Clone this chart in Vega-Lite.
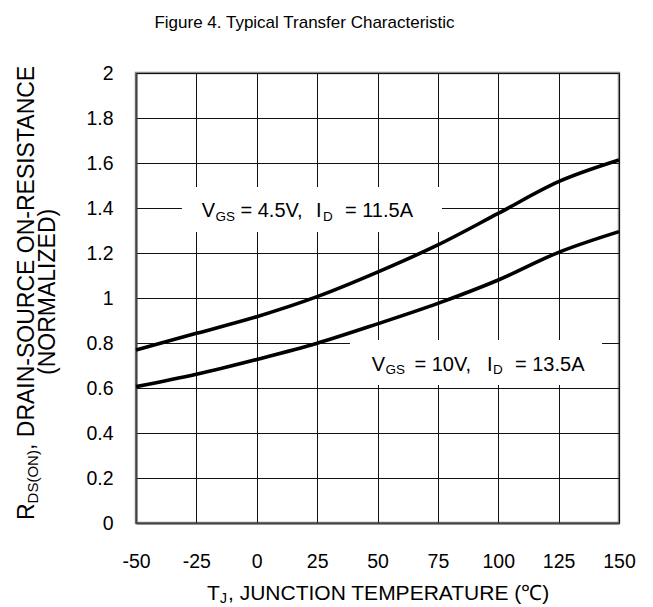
{
  "$schema": "https://vega.github.io/schema/vega-lite/v6.json",
  "width": 483,
  "height": 450,
  "autosize": {"type": "none"},
  "padding": {"left": 136, "top": 73, "right": 34, "bottom": 84},
  "background": "white",
  "title": {
    "text": "Figure 4. Typical Transfer Characteristic",
    "font": "Liberation Sans",
    "fontSize": 17,
    "fontWeight": "normal",
    "color": "black",
    "anchor": "middle",
    "frame": "group",
    "baseline": "alphabetic",
    "offset": 18,
    "dx": -73
  },
  "datasets": {
    "curves": [
      {"series": "VGS = 4.5V", "t": -50, "r": 0.769},
      {"series": "VGS = 4.5V", "t": -25, "r": 0.843},
      {"series": "VGS = 4.5V", "t": 0, "r": 0.917},
      {"series": "VGS = 4.5V", "t": 25, "r": 1.006},
      {"series": "VGS = 4.5V", "t": 50, "r": 1.115},
      {"series": "VGS = 4.5V", "t": 75, "r": 1.236},
      {"series": "VGS = 4.5V", "t": 100, "r": 1.376},
      {"series": "VGS = 4.5V", "t": 125, "r": 1.517},
      {"series": "VGS = 4.5V", "t": 150, "r": 1.613},
      {"series": "VGS = 10V", "t": -50, "r": 0.606},
      {"series": "VGS = 10V", "t": -25, "r": 0.661},
      {"series": "VGS = 10V", "t": 0, "r": 0.727},
      {"series": "VGS = 10V", "t": 25, "r": 0.799},
      {"series": "VGS = 10V", "t": 50, "r": 0.885},
      {"series": "VGS = 10V", "t": 75, "r": 0.976},
      {"series": "VGS = 10V", "t": 100, "r": 1.08},
      {"series": "VGS = 10V", "t": 125, "r": 1.203},
      {"series": "VGS = 10V", "t": 150, "r": 1.295}
    ],
    "boxes": [
      {"t1": -31, "t2": 76.7, "r1": 1.293, "r2": 1.493},
      {"t1": 38.6, "t2": 143, "r1": 0.613, "r2": 0.813}
    ],
    "texts": [
      {"kind": "main", "text": "V", "t": -22.8, "r": 1.361},
      {"kind": "sub", "text": "GS", "t": -17.08, "r": 1.344},
      {"kind": "main", "text": "= 4.5V,", "t": -6.73, "r": 1.361},
      {"kind": "main", "text": "I", "t": 24.53, "r": 1.361},
      {"kind": "sub", "text": "D", "t": 27.43, "r": 1.344},
      {"kind": "main", "text": "= 11.5A", "t": 36.54, "r": 1.361},
      {"kind": "main", "text": "V", "t": 47.6, "r": 0.677},
      {"kind": "sub", "text": "GS", "t": 53.31, "r": 0.662},
      {"kind": "main", "text": "= 10V,", "t": 65.32, "r": 0.677},
      {"kind": "main", "text": "I", "t": 95.34, "r": 0.677},
      {"kind": "sub", "text": "D", "t": 97.83, "r": 0.662},
      {"kind": "main", "text": "= 13.5A", "t": 106.94, "r": 0.677},
      {"kind": "xmain", "text": "T", "t": -20.6, "r": -0.342},
      {"kind": "xsub", "text": "J", "t": -15.22, "r": -0.356},
      {"kind": "xmain", "text": ", JUNCTION TEMPERATURE (℃)", "t": -11.9, "r": -0.342},
      {"kind": "ymain", "text": "R", "t": -92.24, "r": 0.0133},
      {"kind": "ysub", "text": "DS(ON)", "t": -90.58, "r": 0.0871},
      {"kind": "ymain", "text": ", DRAIN-SOURCE ON-RESISTANCE", "t": -92.24, "r": 0.3244},
      {"kind": "ymain", "text": "(NORMALIZED)", "t": -83.54, "r": 0.658}
    ]
  },
  "layer": [
    {
      "data": {"name": "boxes"},
      "mark": {"type": "rect", "fill": "white", "stroke": null},
      "encoding": {
        "x": {"field": "t1", "type": "quantitative", "scale": {"domain": [-50, 150], "nice": false, "zero": false},
          "axis": {
            "values": [-50, -25, 0, 25, 50, 75, 100, 125, 150],
            "labelExpr": "datum.value + ''",
            "title": null,
            "grid": true, "gridColor": "#111", "gridWidth": 1, "gridOpacity": 1,
            "ticks": false, "tickSize": 0,
            "domain": true, "domainColor": "#444", "domainWidth": 2,
            "labelFont": "Liberation Sans", "labelFontSize": 19.5, "labelColor": "black",
            "labelPadding": 29, "labelFlush": false, "labelOverlap": false
          }},
        "x2": {"field": "t2"},
        "y": {"field": "r1", "type": "quantitative", "scale": {"domain": [0, 2], "nice": false},
          "axis": {
            "values": [0, 0.2, 0.4, 0.6, 0.8, 1, 1.2, 1.4, 1.6, 1.8, 2],
            "labelExpr": "datum.value + ''",
            "title": null,
            "grid": true, "gridColor": "#111", "gridWidth": 1, "gridOpacity": 1,
            "ticks": false, "tickSize": 0,
            "domain": true, "domainColor": "#444", "domainWidth": 2,
            "labelFont": "Liberation Sans", "labelFontSize": 19.5, "labelColor": "black",
            "labelPadding": 23, "labelFlush": false, "labelOverlap": false
          }},
        "y2": {"field": "r2"}
      }
    },
    {
      "data": {"name": "curves"},
      "mark": {"type": "line", "color": "black", "strokeWidth": 3.6, "interpolate": "monotone"},
      "encoding": {
        "x": {"field": "t", "type": "quantitative"},
        "y": {"field": "r", "type": "quantitative"},
        "detail": {"field": "series"}
      }
    },
    {
      "data": {"name": "texts"},
      "transform": [{"filter": "datum.kind == 'main'"}],
      "mark": {"type": "text", "font": "Liberation Sans", "fontSize": 20, "align": "left", "baseline": "alphabetic", "color": "black"},
      "encoding": {
        "x": {"field": "t", "type": "quantitative"},
        "y": {"field": "r", "type": "quantitative"},
        "text": {"field": "text"}
      }
    },
    {
      "data": {"name": "texts"},
      "transform": [{"filter": "datum.kind == 'sub'"}],
      "mark": {"type": "text", "font": "Liberation Sans", "fontSize": 13.5, "align": "left", "baseline": "alphabetic", "color": "black"},
      "encoding": {
        "x": {"field": "t", "type": "quantitative"},
        "y": {"field": "r", "type": "quantitative"},
        "text": {"field": "text"}
      }
    },
    {
      "data": {"name": "texts"},
      "transform": [{"filter": "datum.kind == 'xmain'"}],
      "mark": {"type": "text", "font": "Liberation Sans", "fontSize": 21, "align": "left", "baseline": "alphabetic", "color": "black"},
      "encoding": {
        "x": {"field": "t", "type": "quantitative"},
        "y": {"field": "r", "type": "quantitative"},
        "text": {"field": "text"}
      }
    },
    {
      "data": {"name": "texts"},
      "transform": [{"filter": "datum.kind == 'xsub'"}],
      "mark": {"type": "text", "font": "Liberation Sans", "fontSize": 14, "align": "left", "baseline": "alphabetic", "color": "black"},
      "encoding": {
        "x": {"field": "t", "type": "quantitative"},
        "y": {"field": "r", "type": "quantitative"},
        "text": {"field": "text"}
      }
    },
    {
      "data": {"name": "texts"},
      "transform": [{"filter": "datum.kind == 'ymain'"}],
      "mark": {"type": "text", "font": "Liberation Sans", "fontSize": 23, "align": "left", "baseline": "alphabetic", "angle": 270, "color": "black"},
      "encoding": {
        "x": {"field": "t", "type": "quantitative"},
        "y": {"field": "r", "type": "quantitative"},
        "text": {"field": "text"}
      }
    },
    {
      "data": {"name": "texts"},
      "transform": [{"filter": "datum.kind == 'ysub'"}],
      "mark": {"type": "text", "font": "Liberation Sans", "fontSize": 15, "align": "left", "baseline": "alphabetic", "angle": 270, "color": "black"},
      "encoding": {
        "x": {"field": "t", "type": "quantitative"},
        "y": {"field": "r", "type": "quantitative"},
        "text": {"field": "text"}
      }
    }
  ],
  "config": {
    "view": {"stroke": "#8a8a8a", "strokeWidth": 2.5},
    "axis": {"gridCap": "butt"}
  }
}
